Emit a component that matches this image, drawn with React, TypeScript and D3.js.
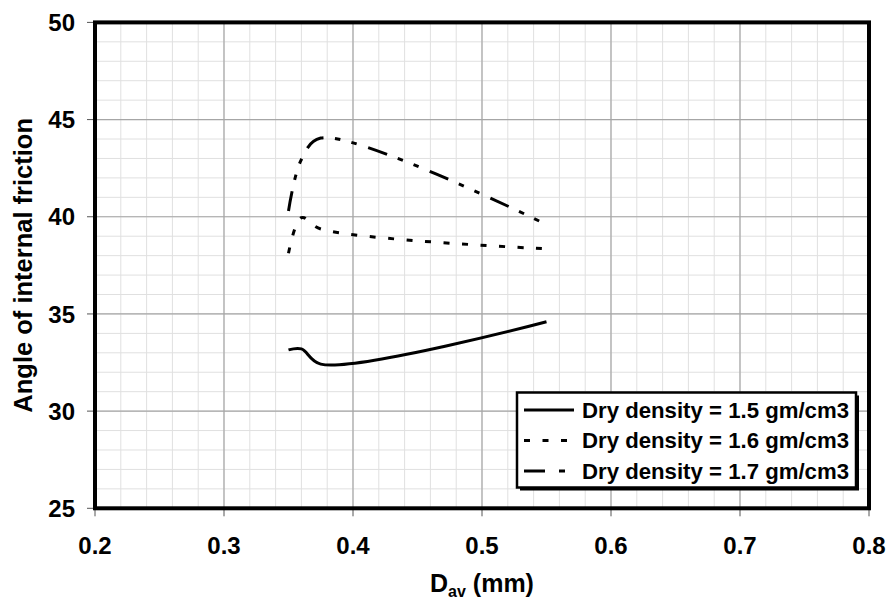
import React from 'react';
import * as d3 from 'd3';

// mean grain size D_av (mm) and angle of internal friction for each dry density
const dAv = [0.35, 0.36, 0.375, 0.55];
const phi15 = [33.15, 33.2, 32.42, 34.6];
const phi16 = [38.12, 39.95, 39.37, 38.35];
const phi17 = [40.3, 42.95, 44.05, 39.6];

const seriesNames = [
  'Dry density = 1.5 gm/cm3',
  'Dry density = 1.6 gm/cm3',
  'Dry density = 1.7 gm/cm3',
];

const xTicks = [0.2, 0.3, 0.4, 0.5, 0.6, 0.7, 0.8];
const yTicks = [25, 30, 35, 40, 45, 50];

const W = 888;
const H = 599;
const FONT = 'Arial, "Liberation Sans", sans-serif';

export default function App() {
  const x = d3.scaleLinear().domain([0.2, 0.8]).range([95, 869]);
  const y = d3.scaleLinear().domain([25, 50]).range([508.3, 22.4]);

  const line = d3
    .line<[number, number]>()
    .x(d => x(d[0]))
    .y(d => y(d[1]))
    .curve(d3.curveCatmullRom.alpha(0.5));

  const series = [
    { name: seriesNames[0], values: phi15, dash: undefined, legendDash: undefined },
    { name: seriesNames[1], values: phi16, dash: '6,12.5', legendDash: '6,12.5' },
    { name: seriesNames[2], values: phi17, dash: '20,11.5,5.5,11.5,5.5,12', legendDash: '21,14,6,40' },
  ];

  // minor grid every 0.02 / 1 degree
  const xMinor = d3.range(0.2, 0.8001, 0.02).map(v => +v.toFixed(2));
  const yMinor = d3.range(25, 50.001, 1);

  const [x0, x1] = x.range();
  const [y0, y1] = y.range();

  return (
    <svg
      width={W}
      height={H}
      style={{ position: 'absolute', left: 0, top: 0, background: '#fff' }}
      fontFamily={FONT}
    >
      <rect x={0} y={0} width={W} height={H} fill="#fff" />

      {/* minor grid */}
      <g stroke="#e0e0e0" strokeWidth={1}>
        {xMinor.map(v => (
          <line key={'xm' + v} x1={x(v)} x2={x(v)} y1={y1} y2={y0} />
        ))}
        {yMinor.map(v => (
          <line key={'ym' + v} x1={x0} x2={x1} y1={y(v)} y2={y(v)} />
        ))}
      </g>

      {/* major grid */}
      <g stroke="#a6a6a6" strokeWidth={1.2}>
        {xTicks.map(v => (
          <line key={'xg' + v} x1={x(v)} x2={x(v)} y1={y1} y2={y0} />
        ))}
        {yTicks.map(v => (
          <line key={'yg' + v} x1={x0} x2={x1} y1={y(v)} y2={y(v)} />
        ))}
      </g>

      {/* tick marks */}
      <g stroke="#555" strokeWidth={1}>
        {yTicks.map(v => (
          <line key={'yt' + v} x1={x0 - 8} x2={x0} y1={y(v)} y2={y(v)} />
        ))}
        {xTicks.map(v => (
          <line key={'xt' + v} x1={x(v)} x2={x(v)} y1={y0} y2={y0 + 8} />
        ))}
      </g>

      {/* series */}
      {series.map(s => (
        <path
          key={s.name}
          d={line(dAv.map((d, i) => [d, s.values[i]] as [number, number])) || ''}
          fill="none"
          stroke="#000"
          strokeWidth={3}
          strokeDasharray={s.dash}
        />
      ))}

      {/* plot frame */}
      <rect
        x={x0}
        y={y1}
        width={x1 - x0}
        height={y0 - y1}
        fill="none"
        stroke="#000"
        strokeWidth={4}
      />

      {/* tick labels */}
      <g fontSize={24} fontWeight="bold" fill="#000">
        {yTicks.map(v => (
          <text key={'yl' + v} x={75} y={y(v)} textAnchor="end" dy="0.36em">
            {v}
          </text>
        ))}
        {xTicks.map(v => (
          <text key={'xl' + v} x={x(v)} y={554} textAnchor="middle">
            {d3.format('.1f')(v)}
          </text>
        ))}
      </g>

      {/* axis titles */}
      <text
        transform={`translate(32,${(y0 + y1) / 2}) rotate(-90)`}
        textAnchor="middle"
        fontSize={25.5}
        fontWeight="bold"
      >
        Angle of internal friction
      </text>
      <text x={(x0 + x1) / 2} y={592} textAnchor="middle" fontSize={25} fontWeight="bold">
        D
        <tspan fontSize={16} dy={5}>av</tspan>
        <tspan dy={-5}> (mm)</tspan>
      </text>

      {/* legend */}
      <g>
        <rect x={520} y={395.5} width={339} height={95} fill="#000" />
        <rect x={517} y={392.5} width={339} height={95} fill="#fff" stroke="#000" strokeWidth={2.5} />
        {series.map((s, i) => {
          const cy = 410 + i * 30.5;
          return (
            <g key={'lg' + i}>
              <line
                x1={524}
                x2={574}
                y1={cy}
                y2={cy}
                stroke="#000"
                strokeWidth={3}
                strokeDasharray={s.legendDash}
              />
              <text x={582} y={cy} dy="0.36em" fontSize={22.2} fontWeight="bold">
                {s.name}
              </text>
            </g>
          );
        })}
      </g>
    </svg>
  );
}
